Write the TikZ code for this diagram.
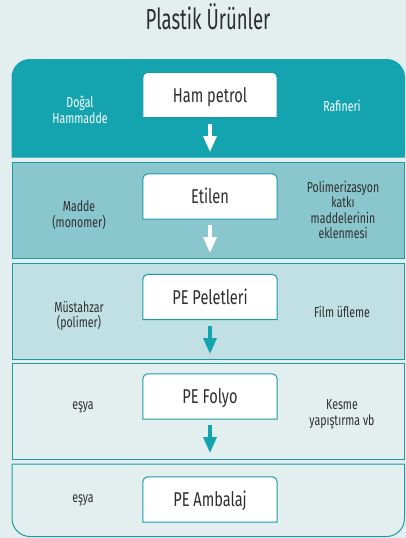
\documentclass[tikz,border=0pt]{standalone}
\usepackage{fontspec}
\setmainfont{Fira Sans}[FakeStretch=0.73]
\newfontfamily\titlefont{Fira Sans}[FakeStretch=0.64]
\usetikzlibrary{arrows.meta}
\definecolor{bgc}{HTML}{E3EFEF}
\definecolor{bandA}{HTML}{14A4B0}
\definecolor{bandB}{HTML}{8AC6CD}
\definecolor{bandC}{HTML}{C0E0E3}
\definecolor{linec}{HTML}{1C9AA6}
\definecolor{txt}{HTML}{2E2E2E}
\pgfdeclarelayer{bands}
\pgfdeclarelayer{boxes}
\pgfsetlayers{bands,boxes,main}
\tikzset{
  bandline/.style={draw=linec, line width=1pt},
  boxnode/.style={minimum width=134pt, minimum height=45pt, inner sep=0pt,
    text height=14pt, text depth=0pt, font=\fontsize{20}{24}\selectfont, text=txt},
  boxline/.style={draw=linec, fill=white, line width=1pt},
  sidelabel/.style={align=center, font=\fontsize{14.5}{15.5}\selectfont, text=txt, inner sep=0pt},
  whitelabel/.style={sidelabel, text=white},
  titlenode/.style={anchor=base, font=\titlefont\fontsize{29}{32}\selectfont, text=txt},
  arrw/.style={draw=white, line width=3.5pt, -{Triangle[width=13pt,length=16pt]}},
  arrt/.style={draw=bandA, line width=3.5pt, -{Triangle[width=13pt,length=16pt]}}
}
\begin{document}
\begin{tikzpicture}[x=1pt,y=1pt]
\useasboundingbox (0,0) rectangle (406,-538);

\node[titlenode] (title) at (208,-29) {Plastik Ürünler};

\begin{pgfonlayer}{bands}
\fill[bgc] (0,0) rectangle (406,-538);
\filldraw[draw=bandA, fill=bandA, line width=1pt] (12,-157) -- (12,-77.5) arc[start angle=180,end angle=90,radius=18] -- (386.5,-59.5) arc[start angle=90,end angle=0,radius=18] -- (404.5,-157) -- cycle;
\filldraw[bandline, fill=bandB] (12,-162) rectangle (404.5,-258);
\filldraw[bandline, fill=bandC] (12,-263) rectangle (404.5,-359);
\filldraw[bandline, fill=bgc] (12,-363.5) rectangle (404.5,-459);
\filldraw[bandline, fill=bgc] (12,-464) -- (12,-518.5) arc[start angle=180,end angle=270,radius=18] -- (386.5,-536.5) arc[start angle=270,end angle=360,radius=18] -- (404.5,-464) -- cycle;
\end{pgfonlayer}

\node[boxnode] (b1) at (210,-95) {Ham petrol};
\node[boxnode] (b2) at (210,-196.5) {Etilen};
\node[boxnode] (b3) at (210,-297) {PE Peletleri};
\node[boxnode] (b4) at (210,-396.5) {PE Folyo};
\node[boxnode] (b5) at (210,-499.5) {PE Ambalaj};

\begin{pgfonlayer}{boxes}
\foreach \b in {b1,b2,b3,b4,b5}{
  \filldraw[boxline] (\b.south west) -- ([yshift=-5pt]\b.north west) arc[start angle=180,end angle=90,radius=5] -- ([xshift=-5pt]\b.north east) arc[start angle=90,end angle=0,radius=5] -- (\b.south east) -- cycle;
}
\end{pgfonlayer}

\coordinate (e1) at (210,-152);
\coordinate (e2) at (210,-253);
\coordinate (e3) at (210,-354);
\coordinate (e4) at (210,-453);
\draw[arrw] ([yshift=-6pt]b1.south) -- (e1);
\draw[arrw] ([yshift=-6pt]b2.south) -- (e2);
\draw[arrt] ([yshift=-6pt]b3.south) -- (e3);
\draw[arrt] ([yshift=-6pt]b4.south) -- (e4);

\node[whitelabel] (l1) at (80,-110) {Doğal\\Hammadde};
\node[whitelabel] (r1) at (342,-106) {Rafineri};
\node[sidelabel] (l2) at (79,-215) {Madde\\(monomer)};
\node[sidelabel] (r2) at (343,-210) {Polimerizasyon\\katkı\\maddelerinin\\eklenmesi};
\node[sidelabel] (l3) at (79,-316) {Müstahzar\\(polimer)};
\node[sidelabel] (r3) at (342,-312) {Film üfleme};
\node[sidelabel] (l4) at (83,-407) {eşya};
\node[sidelabel] (r4) at (342,-414) {Kesme\\yapıştırma vb};
\node[sidelabel] (l5) at (83,-500) {eşya};
\end{tikzpicture}
\end{document}
